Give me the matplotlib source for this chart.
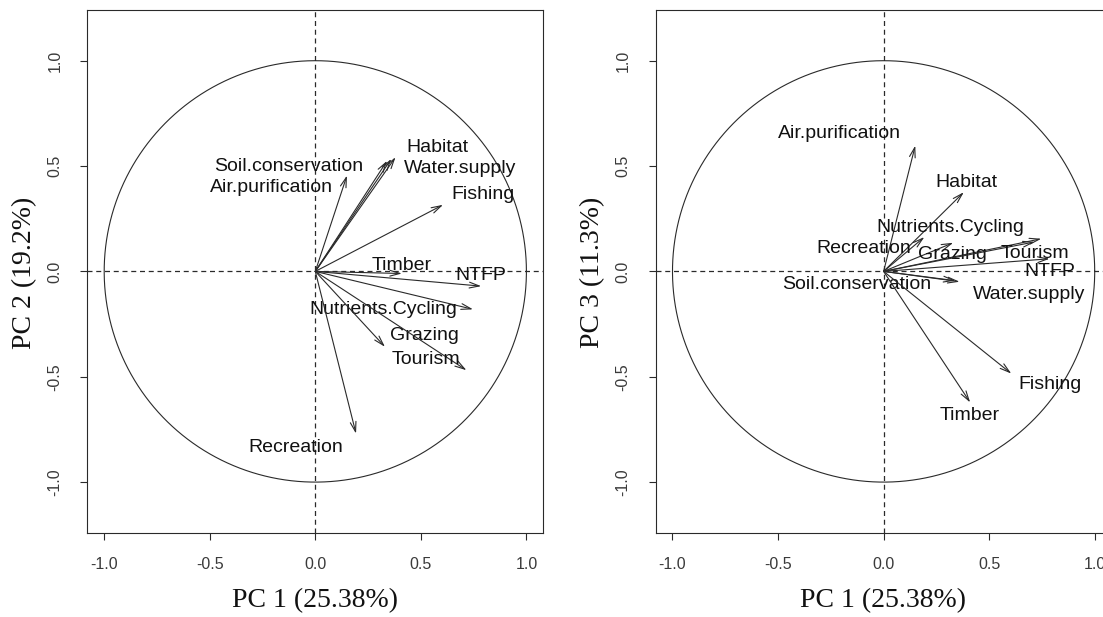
import numpy as np
import matplotlib
matplotlib.use("Agg")
import matplotlib.pyplot as plt

# Variable loadings (correlations with the principal components)
variables = ["Soil.conservation", "Air.purification", "Habitat", "Water.supply",
             "Fishing", "Timber", "NTFP", "Nutrients.Cycling", "Grazing",
             "Tourism", "Recreation"]
pc1 = [0.34, 0.15, 0.38, 0.36, 0.605, 0.41, 0.786, 0.747, 0.33, 0.716, 0.193]
pc2 = [0.525, 0.455, 0.542, 0.534, 0.316, -0.01, -0.07, -0.18, -0.358, -0.469, -0.77]
pc3 = [-0.044, 0.597, 0.376, -0.049, -0.485, -0.622, 0.06, 0.155, 0.136, 0.14, 0.163]

axis_titles = {"PC1": "PC 1 (25.38%)", "PC2": "PC 2 (19.2%)", "PC3": "PC 3 (11.3%)"}
tick_values = [-1.0, -0.5, 0.0, 0.5, 1.0]
tick_labels = ["-1.0", "-0.5", "0.0", "0.5", "1.0"]

# Label placement (data coordinates), shifted to avoid overlaps
label_pos_12 = {
    "Soil.conservation": (-0.127, 0.50), "Air.purification": (-0.21, 0.40),
    "Habitat": (0.577, 0.59), "Water.supply": (0.687, 0.49),
    "Fishing": (0.794, 0.364), "Timber": (0.407, 0.028), "NTFP": (0.786, -0.019),
    "Nutrients.Cycling": (0.32, -0.18), "Grazing": (0.518, -0.303),
    "Tourism": (0.524, -0.417), "Recreation": (-0.093, -0.837),
}
label_pos_13 = {
    "Soil.conservation": (-0.128, -0.062), "Air.purification": (-0.209, 0.654),
    "Habitat": (0.391, 0.42), "Water.supply": (0.687, -0.109),
    "Fishing": (0.79, -0.536), "Timber": (0.407, -0.686), "NTFP": (0.786, -0.001),
    "Nutrients.Cycling": (0.316, 0.207), "Grazing": (0.324, 0.081),
    "Tourism": (0.715, 0.085), "Recreation": (-0.095, 0.108),
}

W, H = 1103, 617
fig = plt.figure(figsize=(W / 100, H / 100), dpi=100)

XLIM = 1.08
YLIM = 1.243
LINE = "#2a2a2a"


def corr_circle(ax, xs, ys, label_pos):
    ax.set_xlim(-XLIM, XLIM)
    ax.set_ylim(-YLIM, YLIM)
    t = np.linspace(0, 2 * np.pi, 400)
    ax.plot(np.cos(t), np.sin(t), color=LINE, lw=0.8)
    ax.axhline(0, color=LINE, lw=0.9, ls=(0, (4, 3)))
    ax.axvline(0, color=LINE, lw=0.9, ls=(0, (4, 3)))
    for name, x, y in zip(variables, xs, ys):
        ax.annotate("", xy=(x, y), xytext=(0, 0),
                    arrowprops=dict(arrowstyle="->,head_length=0.55,head_width=0.16",
                                    lw=0.8, color=LINE, shrinkA=0, shrinkB=0,
                                    mutation_scale=13))
        lx, ly = label_pos[name]
        ax.text(lx, ly, name, ha="center", va="center", fontsize=14,
                family="Liberation Sans", color="#111111")
    ax.set_xticks(tick_values)
    ax.set_xticklabels(tick_labels)
    ax.set_yticks(tick_values)
    ax.set_yticklabels(tick_labels, rotation=90, va="center")
    ax.tick_params(direction="out", length=5, width=0.8, colors=LINE,
                   labelcolor="#3a3a3a", labelsize=11.5)
    ax.tick_params(axis="x", pad=12)
    ax.tick_params(axis="y", pad=13)
    for lab in ax.get_xticklabels() + ax.get_yticklabels():
        lab.set_family("Liberation Sans")
    for sp in ax.spines.values():
        sp.set_linewidth(0.8)
        sp.set_color(LINE)


ax1 = fig.add_axes([87.3 / W, (H - 533.3) / H, 456 / W, 523.8 / H])
corr_circle(ax1, pc1, pc2, label_pos_12)

ax2 = fig.add_axes([655.6 / W, (H - 533.3) / H, 456 / W, 523.8 / H])
corr_circle(ax2, pc1, pc3, label_pos_13)

serif = dict(family="Liberation Serif", fontsize=20, color="#111111")
fig.text(315 / W, 1 - 601 / H, axis_titles["PC1"], ha="center", va="center", **serif)
fig.text(883.3 / W, 1 - 601 / H, axis_titles["PC1"], ha="center", va="center", **serif)
fig.text(25 / W, 1 - 272.6 / H, axis_titles["PC2"], ha="center", va="center",
         rotation=90, **serif)
fig.text(593 / W, 1 - 272.6 / H, axis_titles["PC3"], ha="center", va="center",
         rotation=90, **serif)

fig.savefig("out.png", dpi=100)
